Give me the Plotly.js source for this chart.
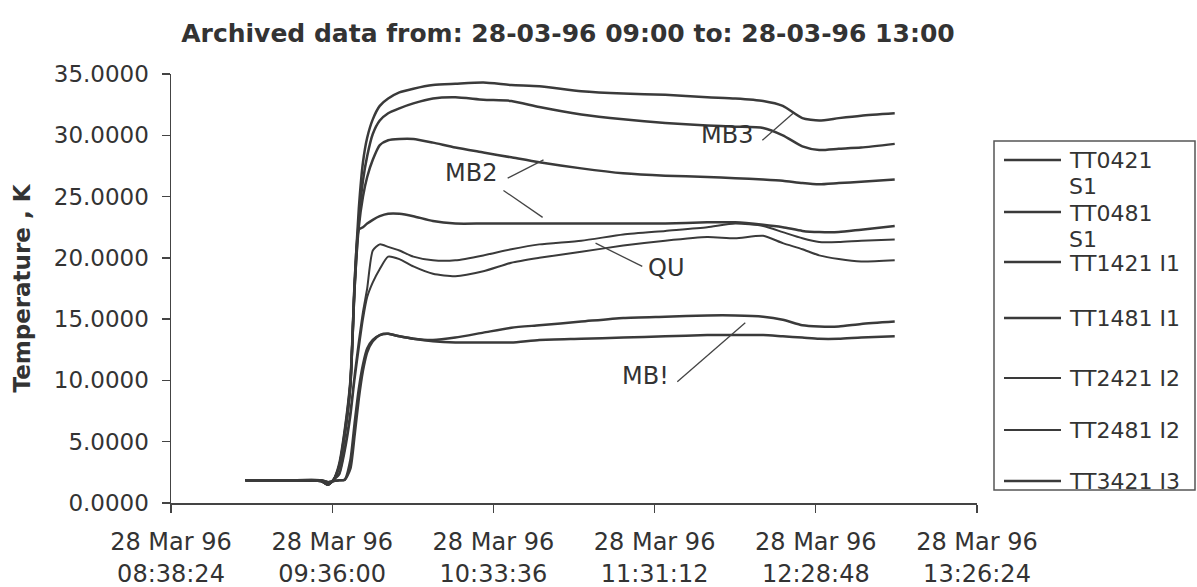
<!DOCTYPE html>
<html><head><meta charset="utf-8">
<script src="https://cdn.plot.ly/plotly-3.0.1.min.js"></script>
<style>html,body{margin:0;padding:0;background:#fff}#chart{width:1197px;height:587px}</style>
</head><body><div id="chart"></div>
<script>
// ---- data ----
const day = '1996-03-28 ';
const times = ['09:05:00','09:20:00','09:32:00','09:34:30','09:36:30','09:38:30','09:40:30','09:42:30',
  '09:44:00','09:45:30','09:47:00','09:48:30','09:50:30','09:53:00','09:56:00','10:00:00','10:05:00',
  '10:12:00','10:20:00','10:30:00','10:40:00','10:50:00','11:05:00','11:20:00','11:35:00','11:50:00',
  '12:00:00','12:10:00','12:17:00','12:24:00','12:30:00','12:37:00','12:45:00','12:57:00'];
const seriesNames = ['TT0421 S1','TT0481 S1','TT1421 I1','TT1481 I1','TT2421 I2','TT2481 I2','TT3421 I3','TT3481 I3'];
const tt0421 = [1.85,1.85,1.8,1.5,1.9,3.2,6.0,10.0,18.0,24.0,27.8,29.8,31.3,32.4,33.0,33.5,33.8,34.1,34.2,34.3,34.1,34.0,33.6,33.4,33.3,33.1,33.0,32.8,32.4,31.4,31.2,31.4,31.6,31.8];
const tt0481 = [1.85,1.85,1.8,1.5,1.9,3.0,5.8,9.8,17.5,23.0,26.3,28.3,30.1,31.2,31.8,32.2,32.6,33.0,33.1,32.9,32.8,32.3,31.7,31.3,31.0,30.8,30.7,30.6,30.0,29.1,28.8,28.9,29.0,29.3];
const tt1421 = [1.85,1.85,1.8,1.5,1.9,3.0,5.6,9.6,17.5,22.5,25.0,26.6,28.0,29.2,29.6,29.7,29.7,29.4,29.0,28.6,28.2,27.8,27.3,26.9,26.7,26.6,26.5,26.4,26.3,26.1,26.0,26.1,26.2,26.4];
const tt1481 = [1.85,1.85,1.8,1.5,1.9,3.0,5.6,9.6,17.8,22.3,22.5,22.8,23.1,23.4,23.6,23.6,23.4,23.0,22.8,22.8,22.8,22.8,22.8,22.8,22.8,22.9,22.9,22.7,22.5,22.2,22.1,22.1,22.3,22.6];
const tt2421 = [1.85,1.85,1.8,1.5,1.9,2.4,4.5,7.5,10.5,13.2,15.6,17.5,20.6,21.1,20.9,20.6,20.1,19.8,19.8,20.2,20.7,21.1,21.4,21.9,22.2,22.5,22.8,22.6,22.1,21.6,21.3,21.3,21.4,21.5];
const tt2481 = [1.85,1.85,1.8,1.5,1.9,2.3,4.2,7.0,10.0,12.6,15.0,16.8,18.0,19.1,20.1,19.9,19.3,18.7,18.5,18.9,19.6,20.0,20.5,21.0,21.4,21.7,21.6,21.8,21.2,20.7,20.2,19.9,19.7,19.8];
const tt3421 = [1.85,1.85,1.85,1.7,1.8,1.85,1.9,3.5,6.5,9.3,11.3,12.6,13.3,13.7,13.8,13.6,13.4,13.3,13.5,13.9,14.3,14.5,14.8,15.1,15.2,15.3,15.3,15.2,14.95,14.5,14.4,14.4,14.6,14.8];
const tt3481 = [1.85,1.85,1.85,1.7,1.8,1.85,1.9,2.8,5.5,8.5,10.8,12.3,13.2,13.7,13.8,13.6,13.4,13.2,13.1,13.1,13.1,13.3,13.4,13.5,13.6,13.7,13.7,13.7,13.6,13.5,13.4,13.4,13.5,13.6];
const tickTimes = ['08:38:24','09:36:00','10:33:36','11:31:12','12:28:48','13:26:24'];
const tickDate = '28 Mar 96';
const yTicks = [0,5,10,15,20,25,30,35];

// ---- drawing ----
const allSeries = [tt0421,tt0481,tt1421,tt1481,tt2421,tt2481,tt3421,tt3481];
const lineWidths = [2.5,2.5,2.5,2.5,2,2,2.5,2.5];
const ink = '#3a3a3a';
const xs = times.map(t => day + t);
const traces = allSeries.map((s,i) => ({
  type:'scatter', mode:'lines', name: seriesNames[i], x: xs, y: s,
  line:{color: ink, width: lineWidths[i], shape:'spline', smoothing:0.6},
  showlegend:false, hoverinfo:'skip'
}));

const L=171, R=977, T=74, B=503;
const px2x = p => (p-L)/(R-L);
const py2y = p => (B-p)/(B-T);
const FONT = 'DejaVu Sans, Verdana, sans-serif';

const shapes = [];
const annotations = [];
// pointer lines for the curve labels
const pointers = [
  ['12:09:42',29.6,'12:20:42',31.8],
  ['10:38:42',26.5,'10:51:30',28.0],
  ['10:37:12',25.5,'10:51:12',23.3],
  ['11:26:48',19.3,'11:10:06',21.2],
  ['11:39:18',9.9,'12:03:36',14.7]
];
pointers.forEach(p => shapes.push({type:'line', xref:'x', yref:'y', x0:day+p[0], y0:p[1], x1:day+p[2], y1:p[3], line:{color:'#444', width:1.3}}));
const curveLabels = [['MB3','11:57:12',30.0],['MB2','10:25:30',26.9],['QU','11:35:06',19.2],['MB!','11:27:54',10.4]];
curveLabels.forEach(c => annotations.push({text:c[0], x:day+c[1], y:c[2], xref:'x', yref:'y', showarrow:false,
  font:{family:FONT, size:24, color:'#333'}, xanchor:'center', yanchor:'middle'}));

// legend box (as in the original: clipped, 7 entries visible, long names wrapped)
shapes.push({type:'rect', xref:'paper', yref:'paper', x0:px2x(994), x1:px2x(1195), y0:py2y(490), y1:py2y(141), line:{color:'#555', width:1.5}, fillcolor:'rgba(0,0,0,0)'});
// [text line centres..., sample line y]
const legendRows = [[[160,186.5],160],[[213,239.5],212],[[263],262],[[318],318],[[378],378],[[430],430],[[481],481]];
legendRows.forEach((r,i) => {
  shapes.push({type:'line', xref:'paper', yref:'paper', x0:px2x(1004), x1:px2x(1061), y0:py2y(r[1]), y1:py2y(r[1]), line:{color:ink, width:lineWidths[i]}});
  const words = r[0].length > 1 ? seriesNames[i].split(' ') : [seriesNames[i]];
  words.forEach((w,k) => annotations.push({text:w, xref:'paper', yref:'paper', x:px2x(1068), y:py2y(r[0][k]), xanchor:'left', yanchor:'middle', align:'left', showarrow:false, borderpad:0,
    font:{family:FONT, size:22, color:'#333'}}));
});

const layout = {
  width:1197, height:587,
  paper_bgcolor:'#fff', plot_bgcolor:'#fff',
  margin:{l:L, r:1197-R, t:T, b:587-B, pad:0},
  title:{text:'Archived data from: 28-03-96 09:00 to: 28-03-96 13:00', xref:'container', yref:'container', x:0.4745, y:1-33/587, xanchor:'center', yanchor:'middle',
    font:{family:FONT, size:25, color:'#333', weight:'bold'}},
  xaxis:{type:'date', range:[day+tickTimes[0], day+tickTimes[tickTimes.length-1]],
    tickmode:'array', tickvals: tickTimes.map(t => day+t), ticktext: tickTimes.map(t => tickDate+'<br>'+t),
    ticks:'outside', ticklen:8, tickcolor:'#444', tickwidth:1.3, showline:true, linecolor:'#444', linewidth:1.5,
    showgrid:false, zeroline:false, ticklabelstandoff:9, tickfont:{family:FONT, size:24, color:'#333'}, fixedrange:true},
  yaxis:{range:[0,35], tickmode:'array', tickvals:yTicks, tickformat:'.4f',
    ticks:'outside', ticklen:8, tickcolor:'#444', tickwidth:1.3, showline:true, linecolor:'#444', linewidth:1.5,
    showgrid:false, zeroline:false, ticklabelstandoff:8, tickfont:{family:FONT, size:23, color:'#333'},
    title:{text:'Temperature , K', standoff:16, font:{family:FONT, size:23, color:'#333', weight:'bold'}}, fixedrange:true},
  showlegend:false,
  shapes: shapes,
  annotations: annotations
};
Plotly.newPlot('chart', traces, layout, {staticPlot:true, displayModeBar:false});
</script>
</body></html>
